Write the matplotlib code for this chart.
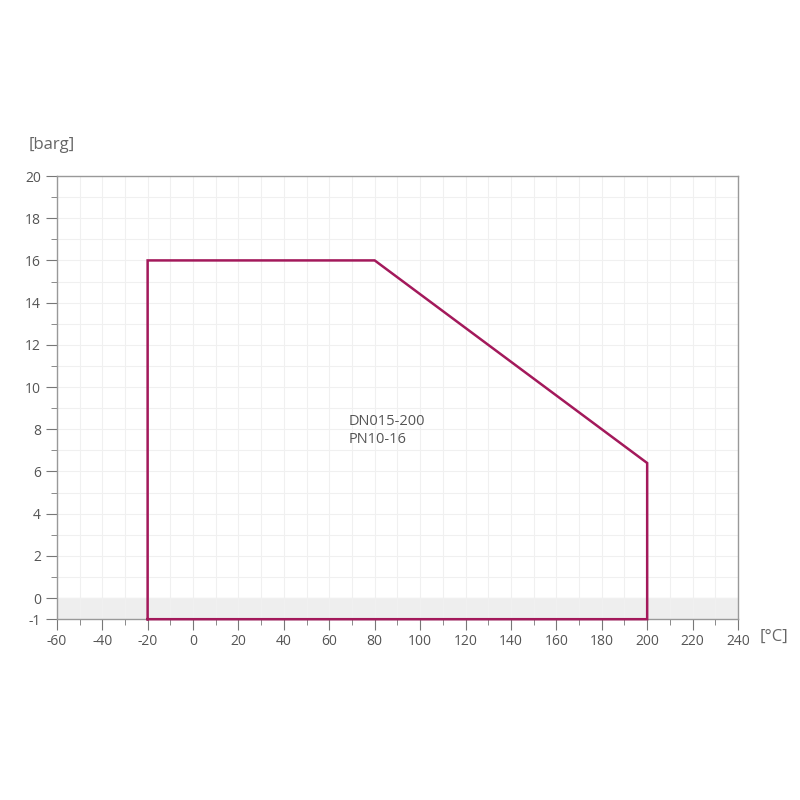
import matplotlib
matplotlib.use("Agg")
import matplotlib.pyplot as plt
from matplotlib.ticker import MultipleLocator, FixedLocator

plt.rcParams['font.family'] = ['Open Sans', 'DejaVu Sans']
plt.rcParams['axes.unicode_minus'] = False

temps = [-20, -20, 80, 200, 200, -20]
press = [-1, 16, 16, 6.4, -1, -1]
x_ticks = list(range(-60, 241, 20))
y_ticks = [-1, 0, 2, 4, 6, 8, 10, 12, 14, 16, 18, 20]
label_lines = ["DN015-200", "PN10-16"]

fig = plt.figure(figsize=(8, 8), dpi=100)
ax = fig.add_axes([0.071, 0.226, 0.8515, 0.554])
ax.set_xlim(-60, 240)
ax.set_ylim(-1, 20)

ax.axhspan(-1, 0, color='#eeeeee', zorder=0)
ax.xaxis.set_major_locator(FixedLocator(x_ticks))
ax.xaxis.set_minor_locator(MultipleLocator(10))
ax.yaxis.set_major_locator(FixedLocator(y_ticks))
ax.yaxis.set_minor_locator(MultipleLocator(1))
ax.grid(which='both', color='#f0f0f0', linewidth=0.8, zorder=0)
ax.set_axisbelow(True)

ax.plot(temps, press, color='#a3195b', linewidth=1.8, solid_joinstyle='miter', zorder=3, clip_on=False)

for s in ax.spines.values():
    s.set_color('#999999')
    s.set_linewidth(1)
ax.tick_params(which='major', direction='out', length=8, color='#777777', labelcolor='#555555', labelsize=10)
ax.tick_params(which='minor', direction='out', length=4, color='#777777')
ax.tick_params(axis='x', pad=3)

ax.text(68.5, 8.35, label_lines[0], fontsize=10.5, color='#555555', va='center', ha='left')
ax.text(68.5, 7.5, label_lines[1], fontsize=10.5, color='#555555', va='center', ha='left')

fig.text(29/800, 1 - 145/800, "[barg]", fontsize=12, color='#666666', va='center', ha='left')
fig.text(760/800, 1 - 637/800, "[°C]", fontsize=12, color='#666666', va='center', ha='left')

fig.savefig("out.png", dpi=100)
